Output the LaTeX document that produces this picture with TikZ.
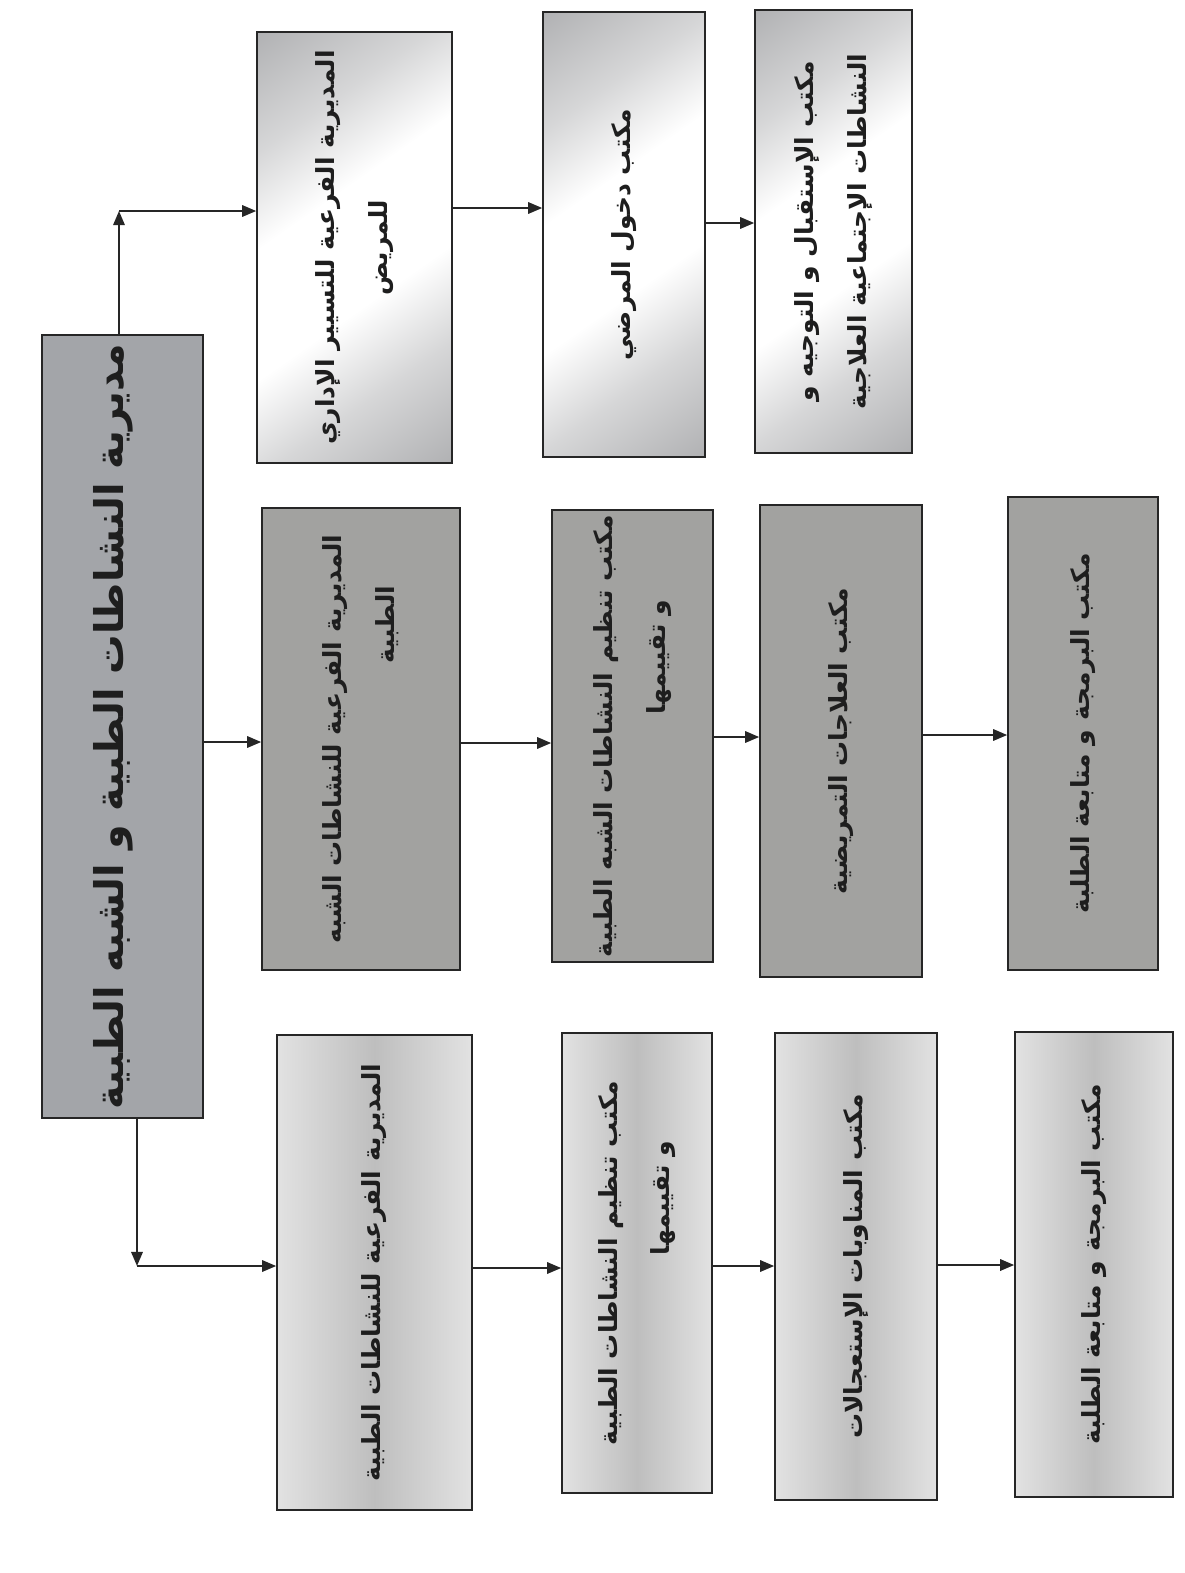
\documentclass[tikz,border=0pt]{standalone}
\usepackage{fontspec}
\newfontfamily\arabicfont[Script=Arabic]{DejaVu Sans}
\TeXXeTstate=1
\usetikzlibrary{arrows.meta,fit}

\definecolor{inkgray}{HTML}{1E1E1E}
\definecolor{mainfill}{HTML}{A3A5A9}
\definecolor{midfill}{HTML}{A2A2A0}
\definecolor{topdark}{HTML}{8A8B8E}
\definecolor{lowmid}{HTML}{BEBEBE}
\definecolor{lowedge}{HTML}{E2E2E2}

% dark corners fading into a broad light band
\pgfdeclareverticalshading{cornerfade}{100bp}{
  color(0bp)=(topdark); color(30bp)=(topdark!35!white); color(42bp)=(white);
  color(58bp)=(white); color(70bp)=(topdark!35!white); color(100bp)=(topdark)}

\tikzset{
  boxbase/.style={draw=black!85, line width=0.9pt, inner sep=0pt, rectangle},
  headbox/.style={boxbase, fill=mainfill},
  toprow/.style={boxbase, shading=cornerfade, shading angle=35},
  midrow/.style={boxbase, fill=midfill},
  lowrow/.style={boxbase, left color=lowedge, right color=lowedge, middle color=lowmid},
  lbl/.style={rotate=90, align=center, text=inkgray, inner sep=0pt,
              font=\arabicfont\bfseries\fontsize{14.2}{30}\selectfont},
  headlbl/.style={lbl, font=\arabicfont\bfseries\fontsize{22.5}{30}\selectfont},
  arr/.style={draw=black!85, line width=1.1pt, -{Triangle[length=8pt,width=6.5pt]}}
}

\begin{document}
\begin{tikzpicture}[x=0.02cm, y=-0.02cm]
\useasboundingbox[fill=white] (0,0) rectangle (1184,1573);

% main directorate
\node[headbox, fit={(42,335) (203,1118)}] (main) {};
\node[headlbl] (mainT) at ([xshift=-5pt]main.center) {\beginR مديرية النشاطات الطبية و الشبه الطبية\endR};

% first branch: administrative management of the patient
\node[toprow, fit={(257,32) (452,463)}] (t1) {};
\node[toprow, fit={(543,12) (705,457)}] (t2) {};
\node[toprow, fit={(755,10) (912,453)}] (t3) {};
\node[lbl] (t1T) at (t1.center) {\beginR المديرية الفرعية للتسيير الإداري\endR\\\beginR للمريض\endR};
\node[lbl] (t2T) at (t2.center) {\beginR مكتب دخول المرضي\endR};
\node[lbl] (t3T) at (t3.center) {\beginR مكتب الإستقبال و التوجيه و\endR\\\beginR النشاطات الإجتماعية العلاجية\endR};

% second branch: paramedical activities
\node[midrow, fit={(262,508) (460,970)}] (m1) {};
\node[midrow, fit={(552,510) (713,962)}] (m2) {};
\node[midrow, fit={(760,505) (922,977)}] (m3) {};
\node[midrow, fit={(1008,497) (1158,970)}] (m4) {};
\node[lbl] (m1T) at (m1.center) {\beginR المديرية الفرعية للنشاطات الشبه\endR\\\hspace*{130pt}\beginR الطبية\endR};
\node[lbl] (m2T) at (m2.center) {\beginR مكتب تنظيم النشاطات الشبه الطبية\endR\\\hspace*{90pt}\beginR و تقييمها\endR};
\node[lbl] (m3T) at (m3.center) {\beginR مكتب العلاجات التمريضية\endR};
\node[lbl] (m4T) at (m4.center) {\beginR مكتب البرمجة و متابعة الطلبة\endR};

% third branch: medical activities
\node[lowrow, fit={(277,1035) (472,1510)}] (b1) {};
\node[lowrow, fit={(562,1033) (712,1493)}] (b2) {};
\node[lowrow, fit={(775,1033) (937,1500)}] (b3) {};
\node[lowrow, fit={(1015,1032) (1173,1497)}] (b4) {};
\node[lbl] (b1T) at (b1.center) {\beginR المديرية الفرعية للنشاطات الطبية\endR};
\node[lbl] (b2T) at (b2.center) {\beginR مكتب تنظيم النشاطات الطبية\endR\\\hspace*{74pt}\beginR و تقييمها\endR};
\node[lbl] (b3T) at (b3.center) {\beginR مكتب المناوبات الإستعجالات\endR};
\node[lbl] (b4T) at (b4.center) {\beginR مكتب البرمجة و متابعة الطلبة\endR};

% connector levels
\coordinate (upX) at (119,0);
\coordinate (upCorner) at (119,211);
\coordinate (dnX) at (137,0);
\coordinate (dnCorner) at (137,1266);
\coordinate (rowT1) at (0,208);
\coordinate (rowT2) at (0,223);
\coordinate (rowM0) at (0,742);
\coordinate (rowM1) at (0,743);
\coordinate (rowM2) at (0,737);
\coordinate (rowM3) at (0,735);
\coordinate (rowB1) at (0,1268);
\coordinate (rowB2) at (0,1266);
\coordinate (rowB3) at (0,1265);

% from the main directorate to its three branches
\draw[arr] (main.north -| upX) -- (upCorner);
\draw[arr] (upCorner) -- (t1.west |- upCorner);
\draw[arr] (main.east |- rowM0) -- (m1.west |- rowM0);
\draw[arr] (main.south -| dnX) -- (dnCorner);
\draw[arr] (dnCorner) -- (b1.west |- dnCorner);

% offices along each branch
\draw[arr] (t1.east |- rowT1) -- (t2.west |- rowT1);
\draw[arr] (t2.east |- rowT2) -- (t3.west |- rowT2);
\draw[arr] (m1.east |- rowM1) -- (m2.west |- rowM1);
\draw[arr] (m2.east |- rowM2) -- (m3.west |- rowM2);
\draw[arr] (m3.east |- rowM3) -- (m4.west |- rowM3);
\draw[arr] (b1.east |- rowB1) -- (b2.west |- rowB1);
\draw[arr] (b2.east |- rowB2) -- (b3.west |- rowB2);
\draw[arr] (b3.east |- rowB3) -- (b4.west |- rowB3);
\end{tikzpicture}
\end{document}
